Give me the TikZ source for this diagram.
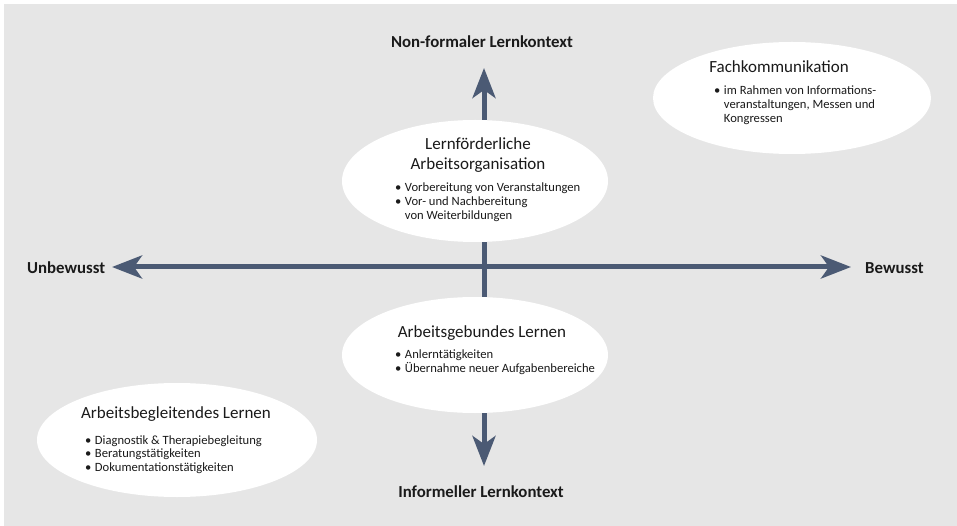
\documentclass[tikz,border=0pt]{standalone}
\usepackage{fontspec}
\setmainfont{Carlito}
\usetikzlibrary{arrows.meta}
\definecolor{bgGray}{HTML}{E6E6E6}
\definecolor{axisBlue}{HTML}{4B5A74}
\definecolor{inkBlack}{HTML}{1A1A1A}
\newcommand{\blt}{\textbullet}
\newenvironment{bulletlist}{\begin{tabular}[t]{@{}l@{\hspace{3.5pt}}l@{}}}{\end{tabular}}
\begin{document}
\begin{tikzpicture}[x=1pt,y=-1pt,
  axis/.style={line width=5pt, color=axisBlue,
    -{Stealth[length=30pt,width=23pt,inset=8pt]}},
  head/.style={font=\fontsize{17}{20}\selectfont, text=inkBlack, align=center, inner sep=0pt},
  items/.style={font=\fontsize{12.6}{13.6}\selectfont, text=inkBlack, anchor=base west, inner sep=0pt},
  pole/.style={font=\fontsize{16.8}{19}\selectfont\bfseries, text=inkBlack, inner sep=0pt}]
% canvas
\useasboundingbox (0,0) rectangle (957,526);
\fill[white] (0,0) rectangle (957,526);
\fill[bgGray] (4,4) rectangle (957,526);

% axis end points and labels
\coordinate (origin) at (484,267);
\coordinate (tipN) at (484,68);
\coordinate (tipS) at (484,466);
\coordinate (tipW) at (112,267);
\coordinate (tipE) at (851,267);
\node[pole] (lblN) at (482,42) {Non-formaler Lernkontext};
\node[pole] (lblS) at (481,492) {Informeller Lernkontext};
\node[pole, anchor=west] (lblW) at (27,268) {Unbewusst};
\node[pole, anchor=west] (lblE) at (865,268) {Bewusst};

% vertical axis (behind the ellipses)
\draw[axis] (origin) -- (tipN);
\draw[axis] (origin) -- (tipS);

% ellipses
\fill[white] (475,181) ellipse [x radius=133, y radius=61];
\fill[white] (475,355) ellipse [x radius=133, y radius=58];
\fill[white] (792,98) ellipse [x radius=139, y radius=56];
\fill[white] (177,440) ellipse [x radius=140, y radius=57];

% horizontal axis
\draw[axis] (origin) -- (tipW);
\draw[axis] (origin) -- (tipE);

% top ellipse
\node[head] (hOrg) at (478,155) {Lernförderliche\\Arbeitsorganisation};
\node[items] (iOrg) at (395,192) {\begin{bulletlist}
\blt & Vorbereitung von Veranstaltungen\\
\blt & Vor- und Nachbereitung\\
     & von Weiterbildungen
\end{bulletlist}};

% bottom ellipse
\node[head] (hGeb) at (482,333) {Arbeitsgebundes Lernen};
\node[items] (iGeb) at (395,358) {\begin{bulletlist}
\blt & Anlerntätigkeiten\\
\blt & Übernahme neuer Aufgabenbereiche
\end{bulletlist}};

% top right ellipse
\node[head] (hFach) at (779,67) {Fachkommunikation};
\node[items] (iFach) at (714,95) {\begin{bulletlist}
\blt & im Rahmen von Informations-\\
     & veranstaltungen, Messen und\\
     & Kongressen
\end{bulletlist}};

% bottom left ellipse
\node[head] (hBeg) at (176,414) {Arbeitsbegleitendes Lernen};
\node[items] (iBeg) at (85,444) {\begin{bulletlist}
\blt & Diagnostik \& Therapiebegleitung\\
\blt & Beratungstätigkeiten\\
\blt & Dokumentationstätigkeiten
\end{bulletlist}};
\end{tikzpicture}
\end{document}
